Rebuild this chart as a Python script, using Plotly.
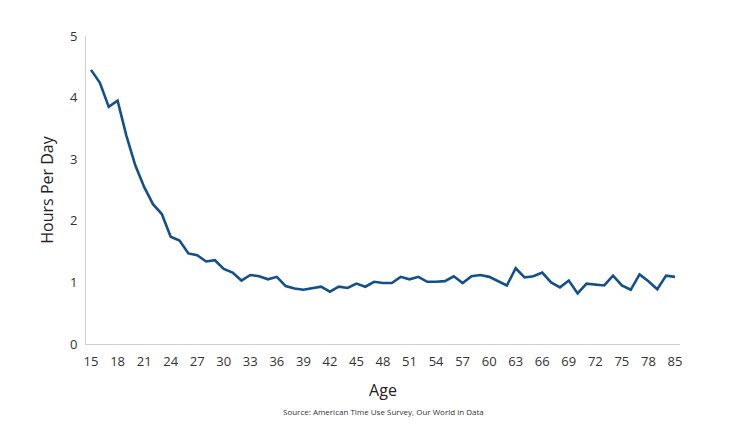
import plotly.graph_objects as go

ages = list(range(15, 81)) + [85]
hours = [4.45, 4.24, 3.85, 3.95, 3.38, 2.90, 2.55, 2.27, 2.11, 1.74,
         1.68, 1.47, 1.44, 1.34, 1.36, 1.22, 1.16, 1.03, 1.12, 1.10,
         1.05, 1.09, 0.94, 0.90, 0.88, 0.91, 0.93, 0.85, 0.93, 0.91,
         0.98, 0.93, 1.01, 0.99, 0.99, 1.09, 1.05, 1.09, 1.01, 1.01,
         1.02, 1.10, 0.99, 1.10, 1.12, 1.09, 1.02, 0.95, 1.23, 1.08,
         1.10, 1.16, 1.00, 0.92, 1.03, 0.82, 0.98, 0.96, 0.95, 1.11,
         0.95, 0.88, 1.13, 1.02, 0.89, 1.11, 1.09]
x_idx = list(range(len(ages)))
tick_idx = x_idx[::3]
tick_text = [str(ages[i]) for i in tick_idx]
y_ticks = [0, 1, 2, 3, 4, 5]

font_family = "'Open Sans', 'Noto Sans', sans-serif"

fig = go.Figure()
fig.add_trace(go.Scatter(x=x_idx, y=hours, mode="lines",
                         line=dict(color="#12508b", width=2.6),
                         hoverinfo="skip", showlegend=False))

fig.update_layout(
    width=730, height=434,
    margin=dict(l=86, r=50, t=36, b=90),
    paper_bgcolor="white", plot_bgcolor="white",
    font=dict(family=font_family, color="#333333"),
    xaxis=dict(range=[-0.57, 66.57], tickvals=tick_idx, ticktext=tick_text,
               showgrid=False, zeroline=False, showline=True, automargin=False,
               linecolor="#d0d0d0", linewidth=1, ticks="", ticklabelstandoff=5,
               tickfont=dict(size=13, color="#333333"),
               title=dict(text="Age", font=dict(size=16, color="#222222"), standoff=16)),
    yaxis=dict(range=[0, 5], tickvals=y_ticks, showgrid=False, zeroline=False,
               showline=True, linecolor="#d0d0d0", linewidth=1, ticks="",
               automargin=False,
               tickfont=dict(size=13, color="#333333"), ticklabelstandoff=5,
               title=dict(text="Hours Per Day", font=dict(size=16, color="#222222"), standoff=12)),
    annotations=[dict(text="Source: American Time Use Survey, Our World in Data",
                      xref="paper", yref="paper", x=0.5, y=-0.22,
                      xanchor="center", yanchor="middle", showarrow=False,
                      font=dict(size=8, color="#333333"))],
)

fig.write_html("out.html", config={"displayModeBar": False},
               post_script="document.body.style.margin='0';")
